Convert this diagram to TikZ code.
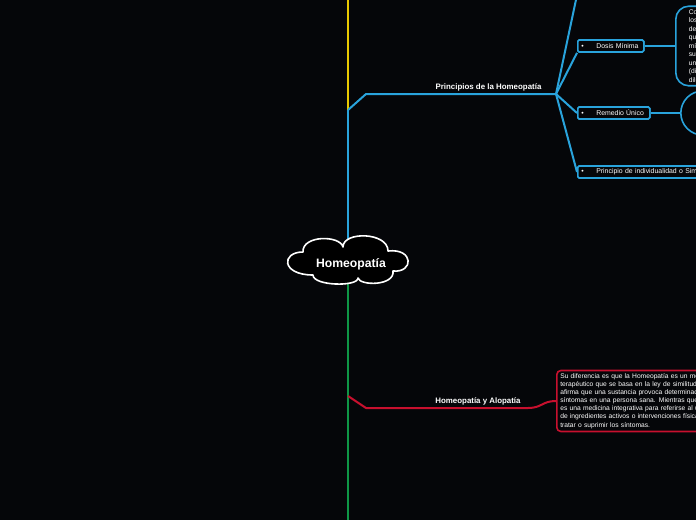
\documentclass[tikz,border=0pt]{standalone}
\usepackage{fontspec}
\setmainfont{Liberation Sans}
\definecolor{bg}{RGB}{5,6,9}
\definecolor{cblue}{RGB}{41,163,220}
\definecolor{cyel}{RGB}{232,200,0}
\definecolor{cgreen}{RGB}{14,150,70}
\definecolor{cred}{RGB}{200,16,46}
\tikzset{
  conn/.style={line width=2pt, line join=round},
  lbl/.style={text=white, font=\bfseries\fontsize{7.9}{9}\selectfont, inner sep=0pt},
  leaf/.style={draw=cblue, fill=bg, line width=1.6pt, rounded corners=1.5pt, text=white,
    font=\fontsize{6.9}{8}\selectfont, minimum height=12pt, inner ysep=0pt, inner xsep=3.5pt,
    align=left, anchor=west},
  bigbox/.style={draw=cblue, fill=bg, line width=1.6pt, text=white,
    font=\fontsize{6.7}{8.5}\selectfont, align=left, anchor=west},
  redbox/.style={draw=cred, fill=bg, line width=1.6pt, rounded corners=4pt, text=white,
    font=\fontsize{6.7}{8.1}\selectfont, align=left, anchor=west, inner xsep=3.5pt, inner ysep=3pt},
  cloudline/.style={draw=white, fill=black, line width=1.6pt, line join=round}
}
\begin{document}
\begin{tikzpicture}[x=1pt,y=-1pt]
\useasboundingbox (0,0) rectangle (696,520);
\clip (0,0) rectangle (696,520);
\fill[bg] (0,0) rectangle (696,520);
% coordinates
\coordinate (top) at (348,0);
\coordinate (j1) at (348,110);
\coordinate (rc) at (348,261);
\coordinate (j2) at (348,396);
\coordinate (bot) at (348,520);
\coordinate (hub) at (556,94);
\coordinate (up) at (577,-5);
% main trunk
\draw[conn, cyel] (top) -- (j1);
\draw[conn, cblue] (j1) -- (rc);
\draw[conn, cgreen] (rc) -- (bot);
% labels
\node[lbl, anchor=base] (prl) at (488.5,89) {Principios de la Homeopatía};
\node[lbl, anchor=base] (hal) at (478,403) {Homeopatía y Alopatía};
% leaf nodes
\node[leaf, text width=59pt] (dosis) at (577,46) {\makebox[15pt][l]{\textbullet}Dosis Mínima};
\node[leaf, text width=65pt] (remedio) at (577,113) {\makebox[15pt][l]{\textbullet}Remedio Único};
\node[leaf, text width=200pt] (indiv) at (577,172) {\makebox[15pt][l]{\textbullet}Principio de individualidad o Similitud};
\node[bigbox, rounded corners=13pt, minimum height=75pt, text width=90pt, inner xsep=13pt] (dosisd) at (675,46)
 {Consiste en\\los medicamentos\\de forma diluida\\que estimula\\mínima para\\su organismo\\una reacción\\(dinamizada)\\diluida};
\node[bigbox, rounded corners=22pt, minimum height=44pt, minimum width=80pt] (remd) at (680,113) {};
\node[redbox, text width=200pt] (diff) at (556,401)
 {Su diferencia es que la Homeopatía es un método\\
  terapéutico que se basa en la ley de similitud, que\\
  afirma que una sustancia provoca determinados\\
  síntomas en una persona sana. Mientras que la alopatía\\
  es una medicina integrativa para referirse al uso\\
  de ingredientes activos o intervenciones físicas para\\
  tratar o suprimir los síntomas.};
% branch connectors
\draw[conn, cblue] (j1) -- (366,94) -- (hub);
\draw[conn, cblue] (hub) -- (up);
\draw[conn, cblue] (hub) -- (dosis.south west);
\draw[conn, cblue] (hub) -- (remedio.west);
\draw[conn, cblue] (hub) -- (indiv.west);
\draw[conn, cblue] (dosis.east) -- (dosisd.west);
\draw[conn, cblue] (remedio.east) -- (remd.west);
\draw[conn, cred] (j2) -- (366,408) -- (528,408) .. controls (542,408) and (542,401) .. (diff.west);
% redraw leaf boxes above connectors
\node[leaf, text width=59pt] at (577,46) {\makebox[15pt][l]{\textbullet}Dosis Mínima};
\node[leaf, text width=65pt] at (577,113) {\makebox[15pt][l]{\textbullet}Remedio Único};
\node[leaf, text width=200pt] at (577,172) {\makebox[15pt][l]{\textbullet}Principio de individualidad o Similitud};
% root cloud
\draw[cloudline, shift={(rc)}]
  (-45,-9) .. controls (-46,-26) and (-8,-26) .. (-5,-14)
  .. controls (-5,-30) and (40,-29) .. (40,-10)
  .. controls (66,-13) and (66,12) .. (45,10)
  .. controls (47,25) and (12,25) .. (10,17)
  .. controls (10,26) and (-35,25) .. (-35,14)
  .. controls (-67,14) and (-67,-9) .. (-45,-9) -- cycle;
\node[text=white, font=\bfseries\fontsize{12.2}{14}\selectfont, inner sep=0pt] (root) at (351,264) {Homeopatía};
\end{tikzpicture}
\end{document}
